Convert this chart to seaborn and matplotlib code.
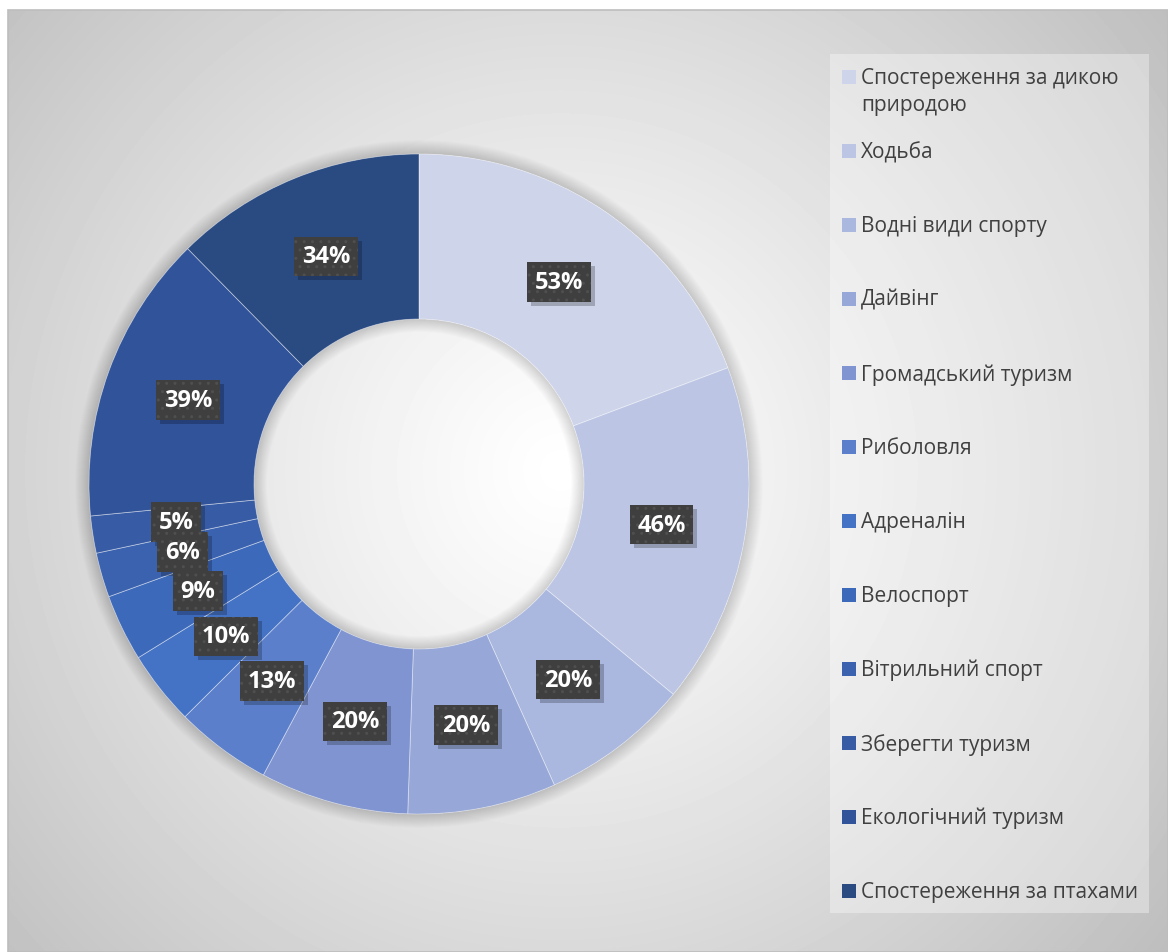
import numpy as np
import seaborn as sns
import matplotlib.pyplot as plt
from matplotlib.patches import Rectangle, Wedge
from matplotlib.transforms import IdentityTransform

# дані
categories = ['Спостереження за дикою природою', 'Ходьба', 'Водні види спорту',
              'Дайвінг', 'Громадський туризм', 'Риболовля', 'Адреналін',
              'Велоспорт', 'Вітрильний спорт', 'Зберегти туризм',
              'Екологічний туризм', 'Спостереження за птахами']
legend_labels = ['Спостереження за дикою\nприродою'] + categories[1:]
values = [53, 46, 20, 20, 20, 13, 10, 9, 6, 5, 39, 34]
colors = ['#CED4EA', '#BCC6E4', '#AAB7DF', '#97A8D8', '#7F94D0', '#5B7FCB',
          '#4472C4', '#3D69BA', '#3A62AF', '#375BA5', '#30539A', '#2A4A82']

sns.set_theme(style='white')
plt.rcParams['font.family'] = ['Open Sans', 'DejaVu Sans']

W, H = 1168, 953
fig = plt.figure(figsize=(W / 100, H / 100), dpi=100, facecolor='white')

# фон з радіальним градієнтом
bg = fig.add_axes([8 / W, 0, (W - 8) / W, (H - 11) / H])
yy, xx = np.mgrid[0:942, 0:1160]
r = np.hypot(xx - 552, yy - 460)
shade = 1 - 0.24 * (r / 730) ** 1.15
bg.imshow(shade, cmap='gray', vmin=0, vmax=1, aspect='auto',
          interpolation='bilinear')
bg.axis('off')
fig.add_artist(Rectangle((8 / W, 0), (W - 8) / W, (H - 11) / H,
                         transform=fig.transFigure, fc='none',
                         ec='#bdbdbd', lw=1.2))

# кільцева діаграма
ax = fig.add_axes([56 / W, 105 / H, 726 / W, 726 / H])
ax.patch.set_alpha(0)
total = sum(values)

# м'яка тінь навколо кільця та всередині отвору
for k in range(14):
    ax.add_patch(Wedge((0, 0), 1 + 0.003 * (k + 1), 0, 360,
                       width=0.003 * (k + 1), fc='black', alpha=0.011,
                       ec='none', zorder=0))
    ax.add_patch(Wedge((0, 0), 0.5, 0, 360, width=0.0028 * (k + 1),
                       fc='black', alpha=0.011, ec='none', zorder=0))

wedges, texts, autotexts = ax.pie(
    values, colors=colors, startangle=90, counterclock=False, radius=1,
    autopct=lambda p: f'{p * total / 100:.0f}%', pctdistance=0.745,
    wedgeprops=dict(width=0.5, edgecolor=(1, 1, 1, 0.45), linewidth=0.6))

for t in autotexts:
    t.set_color('white')
    t.set_fontsize(17)
    t.set_fontweight('bold')
    t.set_ha('center')
    t.set_va('center')
    t.set_zorder(5)
    t.set_bbox(dict(boxstyle='square,pad=0.33', fc='#3f3f3f',
                    ec='#4f4f4f', lw=0, hatch='..'))

ax.set_xlim(-1.1, 1.1)
ax.set_ylim(-1.1, 1.1)
ax.set_aspect('equal')
ax.axis('off')

# тіні під рамками підписів
fig.canvas.draw()
for t in autotexts:
    bb = t.get_bbox_patch().get_window_extent()
    ax.add_patch(Rectangle((bb.x0 + 4, bb.y0 - 4), bb.width, bb.height,
                           transform=IdentityTransform(), fc='black',
                           alpha=0.22, ec='none', zorder=4))

# легенда
fig.add_artist(Rectangle((830 / W, 1 - 914 / H), 319 / W, 859 / H,
                         transform=fig.transFigure, fc='white', alpha=0.35,
                         ec='none'))
y0, step = 78, 74
for i, (lab, col) in enumerate(zip(legend_labels, colors)):
    yc = y0 + step * i
    fig.add_artist(Rectangle((842 / W, 1 - (yc + 7) / H), 14 / W, 14 / H,
                             transform=fig.transFigure, fc=col, ec='none'))
    fig.text(861 / W, 1 - (yc - 10) / H, lab, ha='left', va='top',
             fontsize=15, color='#404040', linespacing=1.39)

fig.savefig('out.png', dpi=100, facecolor='white')
